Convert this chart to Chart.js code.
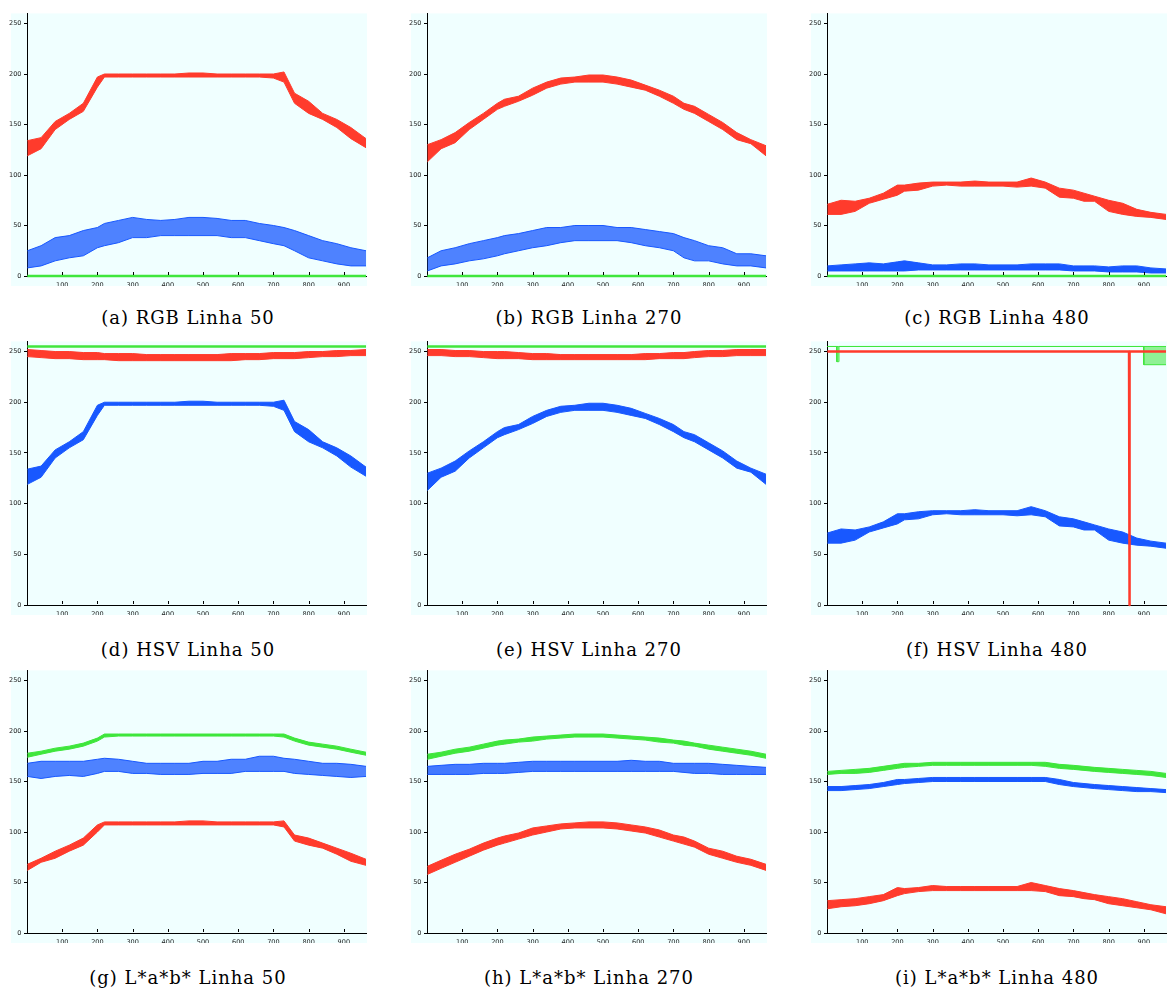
<!DOCTYPE html>
<html><head><meta charset="utf-8">
<script src="https://cdn.jsdelivr.net/npm/chart.js@4.4.0/dist/chart.umd.min.js"></script>
<style>
html,body{margin:0;padding:0;background:#fff;width:1167px;height:990px;overflow:hidden;}
canvas{position:absolute;}
.cap{position:absolute;font-family:"DejaVu Serif";font-size:18px;letter-spacing:1px;line-height:18px;white-space:nowrap;text-align:center;width:300px;color:#000;}
</style></head><body>
<script>
// sample positions along the image row (pixel column)
const X = [1,40,80,120,160,200,220,260,300,340,380,420,460,500,540,580,620,660,700,730,760,800,840,880,920,963];
const X_TICKS = [100,200,300,400,500,600,700,800,900];
const Y_TICKS = [0,50,100,150,200,250];

// (a) RGB Linha 50
const A_RED_LO  = [119,126,145,155,163,187,197,197,197,197,197,197,197,197,197,197,197,197,196,192,171,161,155,147,136,127];
const A_RED_HI  = [134,137,153,161,171,197,200,200,200,200,200,200,201,201,200,200,200,200,200,202,181,173,161,155,147,136];
const A_BLUE_LO = [8,10,15,18,20,28,30,33,38,38,40,40,40,40,40,38,38,35,32,30,25,18,15,12,10,10];
const A_BLUE_HI = [25,30,38,40,45,48,52,55,58,56,55,56,58,58,57,55,55,52,50,48,45,40,35,32,28,25];
const A_GREEN   = [0,0,0,0,0,0,0,0,0,0,0,0,0,0,0,0,0,0,0,0,0,0,0,0,0,0];
// (b) RGB Linha 270
const B_RED_LO  = [113,126,132,145,155,165,168,173,179,186,190,192,192,192,190,187,184,178,171,165,161,153,145,135,131,119];
const B_RED_HI  = [130,135,142,152,161,171,175,178,186,192,196,197,199,199,197,194,189,184,178,171,168,160,152,142,135,129];
const B_BLUE_LO = [5,10,12,15,17,20,22,25,28,30,33,35,35,35,35,33,30,28,25,18,15,15,12,10,10,8];
const B_BLUE_HI = [18,25,28,32,35,38,40,42,45,48,48,50,50,50,48,48,46,44,42,38,35,30,28,22,22,20];
const B_GREEN   = [0,0,0,0,0,0,0,0,0,0,0,0,0,0,0,0,0,0,0,0,0,0,0,0,0,0];
// (c) RGB Linha 480
const C_RED_LO  = [61,61,64,72,76,80,84,85,89,90,89,89,89,89,88,89,87,78,77,74,74,64,61,59,58,56];
const C_RED_HI  = [71,75,74,77,82,90,90,92,93,93,93,94,93,93,93,97,93,87,85,82,79,75,72,66,63,61];
const C_BLUE_LO = [5,5,5,5,5,5,5,6,6,6,6,6,6,6,6,6,6,6,5,5,5,4,4,4,3,3];
const C_BLUE_HI = [10,11,12,13,12,14,15,13,11,11,12,12,11,11,11,12,12,12,10,10,10,9,10,10,8,7];
const C_GREEN   = [0,0,0,0,0,0,0,0,0,0,0,0,0,0,0,0,0,0,0,0,0,0,0,0,0,0];
// (d) HSV Linha 50
const D_RED_LO  = [245,244,243,243,242,242,242,241,241,241,241,241,241,241,241,241,242,242,243,243,243,244,245,245,246,246];
const D_RED_HI  = [252,251,250,250,249,249,248,248,248,247,247,247,247,247,247,248,248,248,249,249,249,250,250,251,251,252];
const D_BLUE_LO = [119,126,145,155,163,187,197,197,197,197,197,197,197,197,197,197,197,197,196,192,171,161,155,147,136,127];
const D_BLUE_HI = [134,137,153,161,171,197,200,200,200,200,200,200,201,201,200,200,200,200,200,202,181,173,161,155,147,136];
const D_GREEN   = [255,255,255,255,255,255,255,255,255,255,255,255,255,255,255,255,255,255,255,255,255,255,255,255,255,255];
// (e) HSV Linha 270
const E_RED_LO  = [246,246,245,245,244,243,243,243,242,242,242,242,242,242,242,242,242,243,243,243,244,245,245,246,246,246];
const E_RED_HI  = [252,252,251,251,250,250,250,249,248,248,247,247,247,247,247,247,248,248,249,249,250,251,251,252,252,252];
const E_BLUE_LO = [113,126,132,145,155,165,168,173,179,186,190,192,192,192,190,187,184,178,171,165,161,153,145,135,131,119];
const E_BLUE_HI = [130,135,142,152,161,171,175,178,186,192,196,197,199,199,197,194,189,184,178,171,168,160,152,142,135,129];
const E_GREEN   = [255,255,255,255,255,255,255,255,255,255,255,255,255,255,255,255,255,255,255,255,255,255,255,255,255,255];
// (f) HSV Linha 480
const F_RED_X   = [1,858,859,860,963];
const F_RED     = [250,250,0,250,250];
const F_GREEN_X = [1,27,28,33,34,899,900,963];
const F_GREEN_LO= [255,255,240,240,255,255,237,237];
const F_GREEN_HI= [255,255,255,255,255,255,255,255];
const F_BLUE_LO = [61,61,64,72,76,80,84,85,89,90,89,89,89,89,88,89,87,78,77,74,74,64,61,59,58,56];
const F_BLUE_HI = [71,75,74,77,82,90,90,92,93,93,93,94,93,93,93,97,93,87,85,82,79,75,72,66,63,61];
// (g) L*a*b* Linha 50
const G_GREEN_LO= [174,177,180,182,185,190,194,195,195,195,195,195,195,195,195,195,195,195,195,194,190,186,184,182,179,176];
const G_GREEN_HI= [178,180,183,185,188,193,197,197,197,197,197,197,197,197,197,197,197,197,197,197,193,189,187,185,182,179];
const G_BLUE_LO = [155,153,155,156,155,158,160,160,158,158,157,157,157,158,158,158,160,160,160,160,158,157,156,155,154,155];
const G_BLUE_HI = [168,170,170,170,170,172,173,172,170,168,168,168,168,170,170,172,172,175,175,173,172,170,168,168,167,165];
const G_RED_LO  = [62,70,74,81,87,100,107,107,107,107,107,107,107,107,107,107,107,107,107,105,91,87,84,78,71,67];
const G_RED_HI  = [68,74,81,87,94,107,110,110,110,110,110,110,111,111,110,110,110,110,110,111,97,94,89,84,79,73];
// (h) L*a*b* Linha 270
const H_GREEN_LO= [172,175,178,180,183,186,187,189,190,192,193,194,194,194,193,192,191,189,188,186,185,182,180,178,176,173];
const H_GREEN_HI= [177,179,182,184,187,190,191,192,194,195,196,197,197,197,196,195,194,193,191,190,188,186,184,182,180,177];
const H_BLUE_LO = [157,157,157,157,158,158,158,159,160,160,160,160,160,160,160,160,160,160,160,159,158,158,157,157,157,157];
const H_BLUE_HI = [165,166,167,167,168,168,168,169,170,170,170,170,170,170,170,171,170,170,168,168,168,168,167,166,165,164];
const H_RED_LO  = [58,64,70,76,82,87,89,93,97,100,103,104,104,104,103,101,99,95,91,88,85,78,74,70,67,62];
const H_RED_HI  = [66,72,78,83,89,94,96,99,104,106,108,109,110,110,109,107,105,102,97,95,91,84,81,76,73,68];
// (i) L*a*b* Linha 480
const I_GREEN_LO= [157,158,158,159,161,163,164,165,166,166,166,166,166,166,166,166,165,163,162,161,160,159,158,157,156,154];
const I_GREEN_HI= [160,161,162,163,165,167,168,168,169,169,169,169,169,169,169,169,169,167,166,165,164,163,162,161,160,158];
const I_BLUE_LO = [141,141,142,143,145,147,148,149,150,150,150,150,150,150,150,150,150,147,145,144,143,142,141,140,140,139];
const I_BLUE_HI = [145,145,146,147,149,152,152,153,154,154,154,154,154,154,154,154,154,152,149,148,147,146,145,144,143,142];
const I_RED_LO  = [24,26,27,29,32,37,39,41,42,42,42,42,42,42,42,42,41,37,36,34,33,29,27,25,23,19];
const I_RED_HI  = [32,33,34,36,38,45,44,45,47,46,46,46,46,46,46,50,47,44,42,40,38,36,34,31,28,26];

const CAPTIONS = ['(a) RGB Linha 50','(b) RGB Linha 270','(c) RGB Linha 480',
                  '(d) HSV Linha 50','(e) HSV Linha 270','(f) HSV Linha 480',
                  '(g) L*a*b* Linha 50','(h) L*a*b* Linha 270','(i) L*a*b* Linha 480'];

const RED = '#ff3b2c', GREEN = '#3fe63c', BLUE = '#1858ff';
function rgba(hex, a){const n=parseInt(hex.slice(1),16);return `rgba(${n>>16&255},${n>>8&255},${n&255},${a})`;}
function pts(xs, ys){return xs.map((x,i)=>({x:x,y:ys[i]}));}
function band(color, lo, hi, alpha, xs){
  xs = xs || X;
  return [
    {data:pts(xs,lo),borderColor:color,borderWidth:1,pointRadius:0,fill:false,tension:0,borderJoinStyle:'round',clip:false},
    {data:pts(xs,hi),borderColor:color,borderWidth:1,pointRadius:0,fill:'-1',backgroundColor:rgba(color,alpha),tension:0,borderJoinStyle:'round',clip:false}
  ];
}
function line(color, ys, width, xs){
  xs = xs || X;
  return [{data:pts(xs,ys),borderColor:color,borderWidth:width,pointRadius:0,fill:false,tension:0,borderJoinStyle:'round',clip:false}];
}

const PANELS = [
  [...band(RED,A_RED_LO,A_RED_HI,1), ...line(GREEN,A_GREEN,2.5), ...band(BLUE,A_BLUE_LO,A_BLUE_HI,0.75)],
  [...band(RED,B_RED_LO,B_RED_HI,1), ...line(GREEN,B_GREEN,2.5), ...band(BLUE,B_BLUE_LO,B_BLUE_HI,0.75)],
  [...band(RED,C_RED_LO,C_RED_HI,1), ...line(GREEN,C_GREEN,2.5), ...band(BLUE,C_BLUE_LO,C_BLUE_HI,1)],
  [...band(RED,D_RED_LO,D_RED_HI,1), ...line(GREEN,D_GREEN,2.5), ...band(BLUE,D_BLUE_LO,D_BLUE_HI,1)],
  [...band(RED,E_RED_LO,E_RED_HI,1), ...line(GREEN,E_GREEN,2.5), ...band(BLUE,E_BLUE_LO,E_BLUE_HI,1)],
  [...line(RED,F_RED,2.5,F_RED_X), ...band(GREEN,F_GREEN_LO,F_GREEN_HI,0.55,F_GREEN_X), ...band(BLUE,F_BLUE_LO,F_BLUE_HI,1)],
  [...band(RED,G_RED_LO,G_RED_HI,1), ...band(GREEN,G_GREEN_LO,G_GREEN_HI,1), ...band(BLUE,G_BLUE_LO,G_BLUE_HI,0.75)],
  [...band(RED,H_RED_LO,H_RED_HI,1), ...band(GREEN,H_GREEN_LO,H_GREEN_HI,1), ...band(BLUE,H_BLUE_LO,H_BLUE_HI,0.8)],
  [...band(RED,I_RED_LO,I_RED_HI,1), ...band(GREEN,I_GREEN_LO,I_GREEN_HI,1), ...band(BLUE,I_BLUE_LO,I_BLUE_HI,1)]
];

const COL_LEFT = [0,400,800];
const ROW_TOP = [7,335,664];
const ROW_H = [279,280,279];
const CAP_X = [188,589,997];
const CAP_Y = [319,651,979];

const bgPlugin = {id:'bg', beforeDraw(chart){
  const ctx=chart.ctx, a=chart.chartArea;
  ctx.save(); ctx.fillStyle='#f0ffff';
  ctx.fillRect(11, a.top, chart.width-11, a.bottom+10-a.top);
  ctx.restore();
}};
const xTickPlugin = {id:'xticks', afterDraw(chart){
  const ctx=chart.ctx, xs=chart.scales.x, a=chart.chartArea;
  ctx.save(); ctx.strokeStyle='#000'; ctx.lineWidth=1;
  X_TICKS.forEach(v=>{const p=Math.round(xs.getPixelForValue(v))+0.5;ctx.beginPath();ctx.moveTo(p,a.bottom-1);ctx.lineTo(p,a.bottom-4);ctx.stroke();});
  ctx.restore();
}};

const tickFont = {family:'DejaVu Sans', size:6.5};
PANELS.forEach((datasets, i)=>{
  const r = Math.floor(i/3), c = i%3;
  const cv = document.createElement('canvas');
  cv.width = 367; cv.height = ROW_H[r];
  cv.style.left = COL_LEFT[c]+'px'; cv.style.top = ROW_TOP[r]+'px';
  cv.style.width = '367px'; cv.style.height = ROW_H[r]+'px';
  document.body.appendChild(cv);
  new Chart(cv, {
    type:'line',
    data:{datasets},
    options:{
      responsive:false, animation:false, events:[], devicePixelRatio:1,
      layout:{padding:{top:2,right:1,left:0,bottom:0}},
      plugins:{legend:{display:false},tooltip:{enabled:false}},
      scales:{
        x:{type:'linear',min:0,max:963,
           afterBuildTicks:s=>{s.ticks=X_TICKS.map(v=>({value:v}));},
           afterFit:s=>{s.height=10;},
           grid:{display:true,drawOnChartArea:false,drawTicks:false},
           border:{display:true,color:'#000',width:1},
           ticks:{padding:5,font:tickFont,color:'#222',maxRotation:0,autoSkip:false}},
        y:{type:'linear',min:0,max:260,
           afterBuildTicks:s=>{s.ticks=Y_TICKS.map(v=>({value:v}));},
           afterFit:s=>{s.width=27;},
           grid:{display:true,drawOnChartArea:false,drawTicks:true,tickLength:3,color:'#000'},
           border:{display:true,color:'#000',width:1},
           ticks:{padding:2.5,font:tickFont,color:'#222',autoSkip:false}}
      }
    },
    plugins:[bgPlugin, xTickPlugin]
  });
  const cap = document.createElement('div');
  cap.className='cap'; cap.textContent = CAPTIONS[i];
  cap.style.left = (CAP_X[c]-150)+'px'; cap.style.top = (CAP_Y[r]-10)+'px';
  document.body.appendChild(cap);
});
</script>
</body></html>
